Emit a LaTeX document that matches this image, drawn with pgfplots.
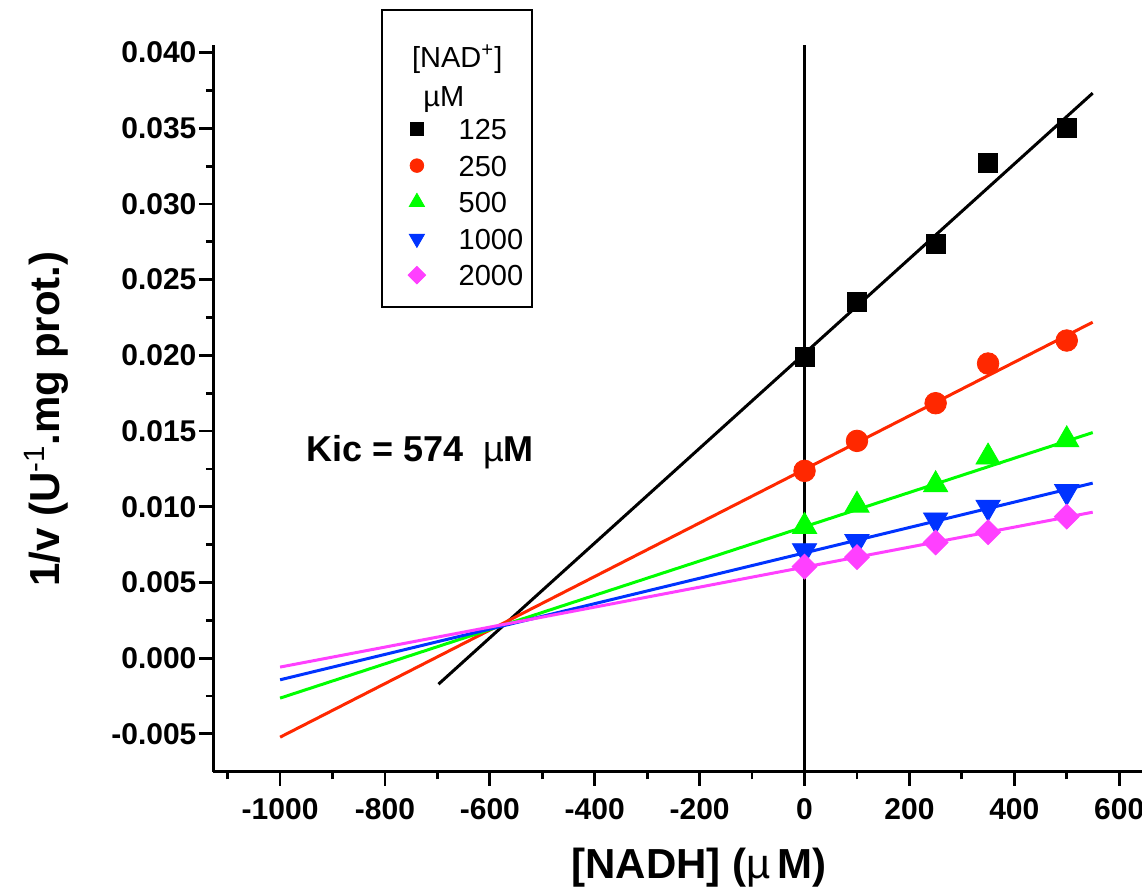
\documentclass[border=0pt]{standalone}
\usepackage{fontspec}
\setmainfont{Liberation Sans}
\usepackage{pgfplots}
\pgfplotsset{compat=1.18}
\definecolor{cred}{RGB}{255,40,0}
\definecolor{cgreen}{RGB}{0,255,0}
\definecolor{cblue}{RGB}{0,51,255}
\definecolor{cmag}{RGB}{255,64,255}
\begin{document}
\begin{tikzpicture}
\begin{axis}[
  scale only axis, width=464.25pt, height=363.35pt,
  xmin=-1127, xmax=643.5, ymin=-0.0075, ymax=0.0405,
  axis x line*=bottom, axis y line*=left,
  axis line style={line width=1.6pt, -},
  tick align=outside,
  every tick/.style={line width=1.4pt, black},
  major tick length=7pt, minor tick length=3.8pt,
  scaled y ticks=false, scaled x ticks=false,
  xtick={-1000,-800,-600,-400,-200,0,200,400,600},
  xticklabels={-1000,-800,-600,-400,-200,0,200,400,600},
  minor xtick={-1100,-900,-700,-500,-300,-100,100,300,500},
  ytick={-0.005,0,0.005,0.010,0.015,0.020,0.025,0.030,0.035,0.040},
  yticklabels={-0.005,0.000,0.005,0.010,0.015,0.020,0.025,0.030,0.035,0.040},
  minor ytick={-0.0025,0.0025,0.0075,0.0125,0.0175,0.0225,0.0275,0.0325,0.0375},
  ticklabel style={font=\fontsize{15}{18}\selectfont\bfseries},
  xticklabel style={yshift=-3pt},
  yticklabel style={xshift=2pt},
  xlabel={[NADH] (\textmd{µ}\,M)},
  ylabel={1/v (U\textsuperscript{\mdseries -1}.mg prot.)},
  every axis x label/.style={at={(rel axis cs:0.523,0)}, anchor=center, yshift=-48pt,
    font=\fontsize{21}{25}\selectfont\bfseries},
  every axis y label/.style={at={(rel axis cs:0,0.485)}, anchor=center, rotate=90, yshift=83.75pt,
    font=\fontsize{21}{25}\selectfont\bfseries},
  clip=false,
  legend style={at={(rel axis cs:0.2092,0.902)}, anchor=north west, draw=none, fill=none,
    font=\fontsize{14.5}{17}\selectfont, row sep=5.75pt, column sep=15.5pt, inner sep=0pt,
    nodes={inner sep=1pt, text height=10.5pt, text depth=0pt}},
  legend cell align=left,
]
% vertical line at x = 0
\addplot[black, line width=1.2pt, forget plot] coordinates {(0,-0.0075) (0,0.0405)};
% fitted lines
\addplot[black, line width=1.5pt, forget plot] coordinates {(-698,-0.00172) (549.5,0.03732)};
\addplot[cred, line width=1.5pt, forget plot] coordinates {(-1000,-0.00522) (549.5,0.02219)};
\addplot[cgreen, line width=1.5pt, forget plot] coordinates {(-1000,-0.00264) (549.5,0.0149)};
\addplot[cblue, line width=1.5pt, forget plot] coordinates {(-1000,-0.00143) (549.5,0.01156)};
\addplot[cmag, line width=1.5pt, forget plot] coordinates {(-1000,-0.00059) (549.5,0.00964)};
% data
\addplot[only marks, mark=square*, mark size=4.8pt, mark options={draw=black, fill=black},
  legend image post style={mark size=3.3pt}]
  coordinates {(0,0.01988) (100,0.02355) (250,0.02737) (350,0.03271) (500,0.03501)};
\addlegendentry{125}
\addplot[only marks, mark=*, mark size=5.4pt, mark options={draw=cred, fill=cred},
  legend image post style={mark size=3.4pt}]
  coordinates {(0,0.01237) (100,0.01435) (250,0.01684) (350,0.01946) (500,0.02098)};
\addlegendentry{250}
\addplot[only marks, mark=triangle*, mark size=7pt, mark options={draw=cgreen, fill=cgreen},
  legend image post style={mark size=4.4pt}]
  coordinates {(0,0.0087) (100,0.0101) (250,0.01145) (350,0.01328) (500,0.01442)};
\addlegendentry{500}
\addplot[only marks, mark=triangle*, mark size=7pt, mark options={draw=cblue, fill=cblue, rotate=180},
  legend image post style={mark size=4.4pt}]
  coordinates {(0,0.0071) (100,0.0077) (250,0.00913) (350,0.00997) (500,0.0110)};
\addlegendentry{1000}
\addplot[only marks, mark=square*, mark size=4.4pt, mark options={draw=cmag, fill=cmag, rotate=45},
  legend image post style={mark size=3.1pt}]
  coordinates {(0,0.00605) (100,0.00667) (250,0.00764) (350,0.00832) (500,0.00935)};
\addlegendentry{2000}
% legend frame and title
\draw[line width=0.9pt] (rel axis cs:0.1811,0.6395) rectangle (rel axis cs:0.343,1.0482);
\node[anchor=west, inner sep=0pt, font=\fontsize{14.5}{17}\selectfont] at (rel axis cs:0.2135,0.9807) {[NAD\textsuperscript{+}]};
\node[anchor=west, inner sep=0pt, font=\fontsize{14.5}{17}\selectfont] at (rel axis cs:0.2256,0.9250) {µM};
\node[anchor=center, inner sep=0pt, font=\fontsize{18}{21}\selectfont\bfseries] at (rel axis cs:0.2224,0.44) {Kic = 574 \ \textmd{µ}M};
\coordinate (bl) at (rel axis cs:0,0);
\coordinate (tr) at (rel axis cs:1,1);
\end{axis}
\pgfresetboundingbox
\path ([xshift=-106.75pt,yshift=-60.65pt]bl) rectangle ([yshift=22.5pt]tr);
\end{tikzpicture}
\end{document}
